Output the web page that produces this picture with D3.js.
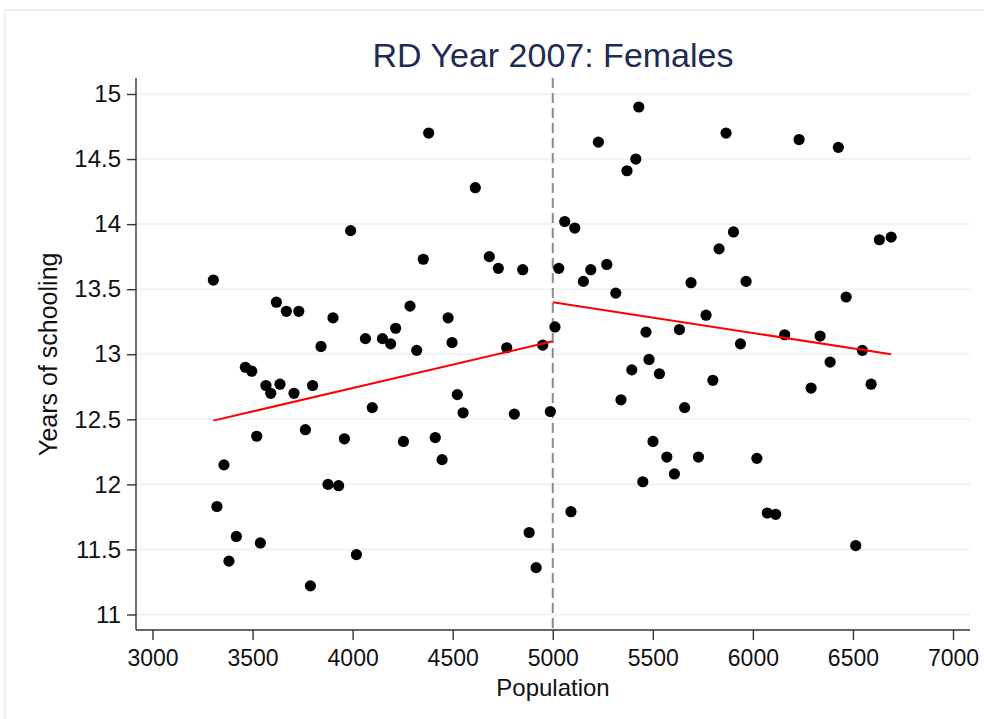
<!DOCTYPE html>
<html>
<head>
<meta charset="utf-8">
<script src="https://cdn.jsdelivr.net/npm/d3@7/dist/d3.min.js"></script>
<style>
  html, body { margin: 0; padding: 0; background: #ffffff; }
  svg { display: block; font-family: "Liberation Sans", Arial, sans-serif; }
</style>
</head>
<body>
<svg id="chart" width="984" height="719"></svg>
<script>
// Population (running variable) and years of schooling, below the 5000 cutoff
const popLeft = [3304, 3322, 3357, 3382, 3419, 3464, 3496, 3521, 3539, 3567, 3591, 3619, 3637,
  3669, 3707, 3731, 3764, 3789, 3800, 3842, 3877, 3902, 3930, 3959, 3990, 4019, 4064, 4098,
  4149, 4190, 4215, 4254, 4287, 4320, 4353, 4380, 4413, 4447, 4477, 4497, 4523, 4552, 4613,
  4683, 4728, 4770, 4808, 4850, 4882, 4917, 4950, 4988];
const yearsLeft = [13.57, 11.83, 12.15, 11.41, 11.60, 12.90, 12.87, 12.37, 11.55, 12.76, 12.70,
  13.40, 12.77, 13.33, 12.70, 13.33, 12.42, 11.22, 12.76, 13.06, 12.00, 13.28, 11.99, 12.35,
  13.95, 11.46, 13.12, 12.59, 13.12, 13.08, 13.20, 12.33, 13.37, 13.03, 13.73, 14.70, 12.36,
  12.19, 13.28, 13.09, 12.69, 12.55, 14.28, 13.75, 13.66, 13.05, 12.54, 13.65, 11.63, 11.36,
  13.07, 12.56];

// Above the cutoff
const popRight = [5011, 5030, 5060, 5091, 5110, 5153, 5190, 5228, 5270, 5315, 5341, 5371, 5395,
  5415, 5430, 5450, 5466, 5481, 5501, 5533, 5570, 5608, 5633, 5659, 5691, 5728, 5766, 5800,
  5831, 5866, 5903, 5938, 5966, 6020, 6072, 6114, 6159, 6231, 6291, 6336, 6386, 6427, 6466,
  6514, 6547, 6591, 6632, 6691];
const yearsRight = [13.21, 13.66, 14.02, 11.79, 13.97, 13.56, 13.65, 14.63, 13.69, 13.47, 12.65,
  14.41, 12.88, 14.50, 14.90, 12.02, 13.17, 12.96, 12.33, 12.85, 12.21, 12.08, 13.19, 12.59,
  13.55, 12.21, 13.30, 12.80, 13.81, 14.70, 13.94, 13.08, 13.56, 12.20, 11.78, 11.77, 13.15,
  14.65, 12.74, 13.14, 12.94, 14.59, 13.44, 11.53, 13.03, 12.77, 13.88, 13.90];

// Linear fit endpoints on each side of the cutoff
const fitLeftX = [3304, 5000];
const fitLeftY = [12.49, 13.10];
const fitRightX = [5000, 6691];
const fitRightY = [13.40, 13.00];

const cutoff = 5000;
const xTicks = [3000, 3500, 4000, 4500, 5000, 5500, 6000, 6500, 7000];
const yTicks = [11, 11.5, 12, 12.5, 13, 13.5, 14, 14.5, 15];

const svg = d3.select("#chart");

// Plot region bounds
const plotLeft = 136, plotRight = 970, plotTop = 78, plotBottom = 630;

const x = d3.scaleLinear().domain([3000, 7000]).range([152.5, 953]);
const y = d3.scaleLinear().domain([11, 15]).range([614.5, 94]);

// Outer graph frame
svg.append("rect")
  .attr("x", 5).attr("y", 10).attr("width", 1100).attr("height", 1000)
  .attr("fill", "none").attr("stroke", "#e5eef0").attr("stroke-width", 1.5);

// Horizontal gridlines
svg.append("g").selectAll("line").data(yTicks).join("line")
  .attr("x1", plotLeft).attr("x2", plotRight)
  .attr("y1", d => y(d)).attr("y2", d => y(d))
  .attr("stroke", "#eaf2f3").attr("stroke-width", 1.6);

// Y axis
const yAxis = svg.append("g")
  .attr("transform", `translate(${plotLeft},0)`)
  .call(d3.axisLeft(y).tickValues(yTicks).tickFormat(d3.format("~g")).tickSize(9).tickPadding(6));
yAxis.select(".domain").remove();
yAxis.selectAll(".tick line").attr("stroke", "#333").attr("stroke-width", 1.4);
yAxis.selectAll(".tick text").attr("font-size", 24).attr("fill", "#111")
  .attr("font-family", "Liberation Sans, Arial, sans-serif");

// X axis
const xAxis = svg.append("g")
  .attr("transform", `translate(0,${plotBottom})`)
  .call(d3.axisBottom(x).tickValues(xTicks).tickFormat(d3.format("d")).tickSize(10).tickPadding(10));
xAxis.select(".domain").remove();
xAxis.selectAll(".tick line").attr("stroke", "#333").attr("stroke-width", 1.4);
xAxis.selectAll(".tick text").attr("font-size", 23).attr("fill", "#111")
  .attr("font-family", "Liberation Sans, Arial, sans-serif");

// Axis lines spanning the plot region
svg.append("line")
  .attr("x1", plotLeft).attr("x2", plotLeft).attr("y1", plotTop).attr("y2", plotBottom)
  .attr("stroke", "#333").attr("stroke-width", 1.4);
svg.append("line")
  .attr("x1", plotLeft).attr("x2", plotRight).attr("y1", plotBottom).attr("y2", plotBottom)
  .attr("stroke", "#333").attr("stroke-width", 1.4);

// Cutoff line
svg.append("line")
  .attr("x1", x(cutoff)).attr("x2", x(cutoff)).attr("y1", plotTop).attr("y2", plotBottom)
  .attr("stroke", "#8a8a8a").attr("stroke-width", 2).attr("stroke-dasharray", "10,5");

// Scatter points
const dots = popLeft.map((p, i) => [p, yearsLeft[i]])
  .concat(popRight.map((p, i) => [p, yearsRight[i]]));
svg.append("g").selectAll("circle").data(dots).join("circle")
  .attr("cx", d => x(d[0])).attr("cy", d => y(d[1])).attr("r", 5.6)
  .attr("fill", "#000");

// Fitted lines
const line = d3.line().x(d => x(d[0])).y(d => y(d[1]));
[[fitLeftX, fitLeftY], [fitRightX, fitRightY]].forEach(([xs, ys]) => {
  svg.append("path")
    .attr("d", line(xs.map((v, i) => [v, ys[i]])))
    .attr("fill", "none").attr("stroke", "#ff0000").attr("stroke-width", 2);
});

// Title and axis titles
svg.append("text")
  .attr("x", 553).attr("y", 67).attr("text-anchor", "middle")
  .attr("font-size", 34).attr("fill", "#1e2b52")
  .text("RD Year 2007: Females");

svg.append("text")
  .attr("x", 553).attr("y", 696).attr("text-anchor", "middle")
  .attr("font-size", 24).attr("fill", "#111")
  .text("Population");

svg.append("text")
  .attr("transform", `translate(57,${(y(11) + y(15)) / 2}) rotate(-90)`)
  .attr("text-anchor", "middle")
  .attr("font-size", 25).attr("fill", "#111")
  .text("Years of schooling");
</script>
</body>
</html>
